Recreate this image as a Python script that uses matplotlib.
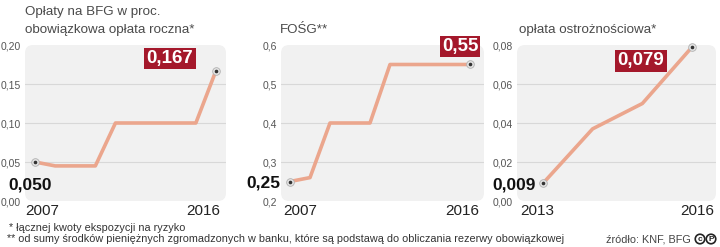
import matplotlib.pyplot as plt
from matplotlib.patches import FancyBboxPatch

plt.rcParams['font.family'] = ['Liberation Sans', 'DejaVu Sans']

# data
years_roczna = [2007, 2008, 2009, 2010, 2011, 2012, 2013, 2014, 2015, 2016]
oplata_roczna = [0.050, 0.045, 0.045, 0.045, 0.100, 0.100, 0.100, 0.100, 0.100, 0.167]

years_fosg = [2007, 2008, 2009, 2010, 2011, 2012, 2013, 2014, 2015, 2016]
fosg = [0.25, 0.26, 0.40, 0.40, 0.40, 0.55, 0.55, 0.55, 0.55, 0.55]

years_ostr = [2013, 2014, 2015, 2016]
oplata_ostr = [0.009, 0.037, 0.050, 0.079]

ticks_roczna = [0.00, 0.05, 0.10, 0.15, 0.20]
ticks_fosg = [0.2, 0.3, 0.4, 0.5, 0.6]
ticks_ostr = [0.00, 0.02, 0.04, 0.06, 0.08]

W, H = 720, 247
fig = plt.figure(figsize=(W / 100, H / 100), dpi=100)


def fx(x):
    return x / W


def fy(y):
    return 1 - y / H


def fmt(v, d):
    return f'{v:.{d}f}'.replace('.', ',')


LINE = '#eba68d'
RED = '#a4182b'

# (years, values, yticks, tick decimals, value decimals, axes left/right px, xlim,
#  start label offset, end label offset, year label positions)
panels = [
    (years_roczna, oplata_roczna, ticks_roczna, 2, 3, 25, 226, (2006.5, 2016.5),
     (17, -21), (-46, 14), (0.0, 0.97)),
    (years_fosg, fosg, ticks_fosg, 1, 2, 281, 484, (2006.55, 2016.7),
     (-10, 0), (-10, 20), (0.01, 0.975)),
    (years_ostr, oplata_ostr, ticks_ostr, 2, 3, 517, 716, (2012.48, 2016.48),
     (-7, 0), (-51, -12), (0.015, 0.99)),
]

for (xs, ys, yt, td, vd, x0, x1, xl, off0, off1, ylab) in panels:
    ax = fig.add_axes([fx(x0), fy(201), (x1 - x0) / W, 156 / H])
    ax.set_facecolor('none')
    for s in ax.spines.values():
        s.set_visible(False)

    bg = FancyBboxPatch((0, 0), 1, 1, boxstyle='round,pad=0,rounding_size=0.04',
                        mutation_aspect=(x1 - x0) / 156, transform=ax.transAxes,
                        fc='#f1f1f1', ec='none', zorder=0)
    ax.add_patch(bg)

    ax.set_xlim(*xl)
    ax.set_ylim(yt[0], yt[-1])
    ax.set_xticks([])
    ax.set_yticks(yt)
    ax.set_yticklabels([fmt(t, td) for t in yt])
    ax.tick_params(axis='y', length=0, pad=3, labelsize=7.5, labelcolor='#555555')
    for t in yt[1:-1]:
        ax.axhline(t, color='#d8d8d8', lw=0.8, zorder=1)

    ax.plot(xs, ys, color=LINE, lw=2.6, zorder=2)

    ends_x = [xs[0], xs[-1]]
    ends_y = [ys[0], ys[-1]]
    ax.plot(ends_x, ends_y, 'o', ms=5.5, mfc='#e4e4e4', mec='#b0b0b0', mew=0.6,
            zorder=3, clip_on=False)
    ax.plot(ends_x, ends_y, 'o', ms=1.6, color='#333333', zorder=4, clip_on=False)

    ax.annotate(fmt(ys[0], vd), xy=(xs[0], ys[0]), xytext=off0,
                textcoords='offset pixels', ha='right', va='center_baseline',
                fontsize=12.5, fontweight='bold', color='#111111',
                annotation_clip=False)
    ax.annotate(fmt(ys[-1], vd), xy=(xs[-1], ys[-1]), xytext=off1,
                textcoords='offset pixels', ha='center', va='center_baseline',
                fontsize=13.5, fontweight='bold', color='white',
                bbox=dict(boxstyle='square,pad=0.12', fc=RED, ec='none'),
                annotation_clip=False, zorder=5)

    ax.text(ylab[0], -0.064, str(xs[0]), transform=ax.transAxes, ha='left',
            va='center', fontsize=11, color='#222222')
    ax.text(ylab[1], -0.064, str(xs[-1]), transform=ax.transAxes, ha='right',
            va='center', fontsize=11, color='#222222')

# titles
fig.text(fx(25), fy(12), 'Opłaty na BFG w proc.', fontsize=9.6, color='#4a4a4a', va='center')
fig.text(fx(25), fy(30), 'obowiązkowa opłata roczna*', fontsize=9.6, color='#4a4a4a', va='center')
fig.text(fx(280), fy(30), 'FOŚG**', fontsize=9.6, color='#4a4a4a', va='center')
fig.text(fx(519), fy(30), 'opłata ostrożnościowa*', fontsize=9.6, color='#4a4a4a', va='center')

# footnotes
fig.text(fx(9), fy(228), '* łącznej kwoty ekspozycji na ryzyko', fontsize=7.8,
         color='#333333', va='center')
fig.text(fx(7), fy(239), '** od sumy środków pieniężnych zgromadzonych w banku, '
         'które są podstawą do obliczania rezerwy obowiązkowej', fontsize=7.8,
         color='#333333', va='center')
fig.text(fx(606), fy(239), 'źródło: KNF, BFG', fontsize=7.8, color='#444444', va='center')
fig.text(fx(700), fy(239), 'c', fontsize=6, fontweight='bold', color='#222222',
         ha='center', va='center',
         bbox=dict(boxstyle='circle,pad=0.15', fc='white', ec='#222222', lw=1.2))
fig.text(fx(711), fy(239), 'P', fontsize=6, fontweight='bold', color='#222222',
         ha='center', va='center',
         bbox=dict(boxstyle='circle,pad=0.15', fc='white', ec='#222222', lw=1.2))

fig.savefig('out.png', dpi=100)
